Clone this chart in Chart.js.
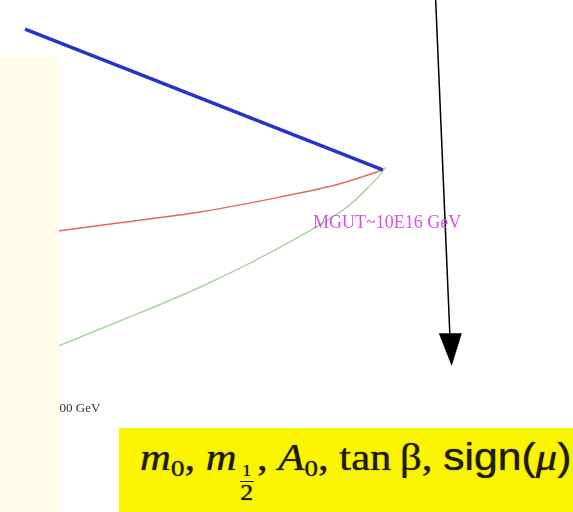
<!DOCTYPE html>
<html>
<head>
<meta charset="utf-8">
<script src="https://cdn.jsdelivr.net/npm/chart.js@4"></script>
<style>
  body { margin: 0; background: #fff; }
  #wrap { position: relative; width: 573px; height: 512px; overflow: hidden; }
  #couplings { position: absolute; left: 0; top: 0; }
  .note { position: absolute; font-family: "Liberation Serif", "DejaVu Serif", serif; white-space: nowrap; }
  #gut { left: 313px; top: 213px; font-size: 18px; line-height: 18px; color: #d452e2; }
  #ew { left: 53px; top: 401px; font-size: 13px; line-height: 13px; color: #333; }
  #panel { position: absolute; left: 0; top: 57px; width: 59px; height: 455px; background: #fffdea; }
  #params { position: absolute; left: 119px; top: 428px; width: 454px; height: 84px; background: #fbf400; }
  #params .f { position: absolute; left: 21px; top: 9px; font-family: "Liberation Serif", serif;
               font-size: 38px; line-height: 40px; color: #1e1a08; white-space: nowrap;
               transform: scaleX(1.125); transform-origin: 0 0;
               text-shadow: 0 0 1px rgba(30, 26, 8, 0.8); }
  .mi { font-style: italic; }
  .sans { font-family: "Liberation Sans", sans-serif; }
  sub { font-size: 24px; vertical-align: -6px; line-height: 0; }
  .frac { display: inline-block; vertical-align: -30px; font-size: 23px; line-height: 21px; text-align: center; margin: 0 3px; }
  .frac span { display: block; }
  .frac .num { font-size: 16px; border-bottom: 1px solid #1e1a08; padding: 0 2px; }
</style>
</head>
<body>
<div id="wrap">
  <canvas id="couplings" width="573" height="512"></canvas>
  <div class="note" id="gut">MGUT~10E16 GeV</div>
  <div class="note" id="ew">100 GeV</div>
  <div id="panel"></div>
  <div id="params"><div class="f"><span class="mi">m</span><sub>0</sub>, <span class="mi">m</span><span class="frac"><span class="num">1</span><span>2</span></span>, <span class="mi">A</span><sub>0</sub>, tan&#8201;β, <span class="sans">sign(</span><span class="mi">μ</span><span class="sans">)</span></div></div>
</div>
<script>
// running inverse couplings vs log10(Q / GeV), arbitrary vertical units
const logQ_U1 = [0.58, 16.0];
const invAlpha_U1 = [94.3, 66.8];
const logQ_SU2 = [2.0, 4.67, 8.12, 11.56, 14.15, 16.0];
const invAlpha_SU2 = [54.9, 56.5, 58.6, 61.5, 64.1, 66.8];
const logQ_SU3 = [2.0, 4.67, 8.12, 10.27, 12.98, 14.58, 15.35, 15.87, 16.13];
const invAlpha_SU3 = [32.4, 37.3, 43.9, 48.6, 55.3, 60.0, 63.3, 65.8, 67.4];

// arrow pointing down to the low-scale parameters
const arrowTail = { x: 18.28, y: 100 };
const arrowBase = { x: 18.89, y: 34.9 };
const arrowTip = { x: 18.97, y: 28.5 };

function toPoints(xs, ys) {
    return xs.map((x, i) => ({ x: x, y: ys[i] }));
}

const arrowPlugin = {
    id: 'arrow',
    afterDatasetsDraw(chart) {
        const ctx = chart.ctx;
        const sx = chart.scales.x, sy = chart.scales.y;
        const tx = sx.getPixelForValue(arrowTail.x), ty = sy.getPixelForValue(arrowTail.y);
        const bx = sx.getPixelForValue(arrowBase.x), by = sy.getPixelForValue(arrowBase.y);
        const px = sx.getPixelForValue(arrowTip.x), py = sy.getPixelForValue(arrowTip.y);
        ctx.save();
        ctx.strokeStyle = '#000';
        ctx.lineWidth = 1.5;
        ctx.beginPath();
        ctx.moveTo(tx, ty);
        ctx.lineTo(bx, by);
        ctx.stroke();
        ctx.fillStyle = '#000';
        ctx.beginPath();
        ctx.moveTo(bx - 11, by);
        ctx.lineTo(bx + 12, by);
        ctx.lineTo(px, py);
        ctx.closePath();
        ctx.fill();
        ctx.restore();
    }
};

new Chart(document.getElementById('couplings'), {
    type: 'scatter',
    data: {
        datasets: [{
            data: toPoints(logQ_U1, invAlpha_U1),
            borderColor: '#2633c9',
            borderWidth: 3.5,
            showLine: true,
            pointRadius: 0
        }, {
            data: toPoints(logQ_SU2, invAlpha_SU2),
            borderColor: '#e06a66',
            borderWidth: 1.5,
            showLine: true,
            pointRadius: 0,
            cubicInterpolationMode: 'monotone'
        }, {
            data: toPoints(logQ_SU3, invAlpha_SU3),
            borderColor: '#a9d4a2',
            borderWidth: 1.5,
            showLine: true,
            pointRadius: 0,
            cubicInterpolationMode: 'monotone'
        }]
    },
    options: {
        responsive: false,
        animation: false,
        layout: { padding: 0 },
        plugins: { legend: { display: false }, tooltip: { enabled: false } },
        scales: {
            x: { type: 'linear', min: -0.5, max: 24.2, display: false },
            y: { type: 'linear', min: 0, max: 100, display: false }
        }
    },
    plugins: [arrowPlugin]
});
</script>
</body>
</html>
